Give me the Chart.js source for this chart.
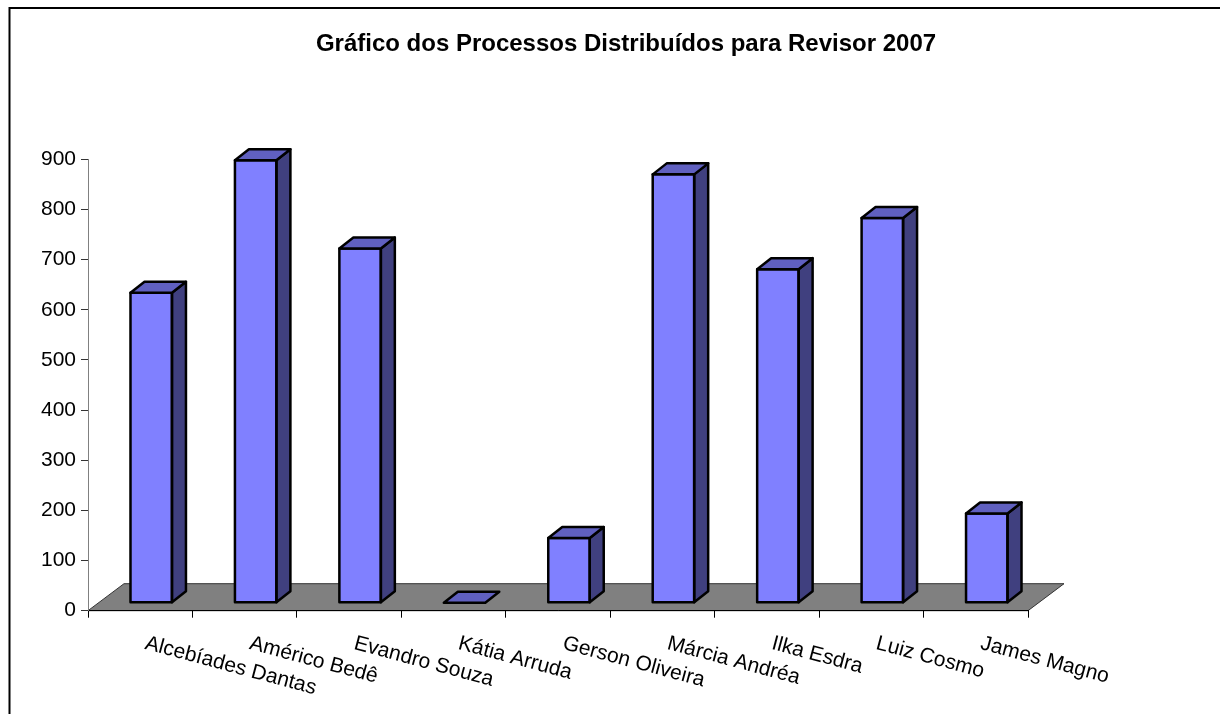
<!DOCTYPE html>
<html>
<head>
<meta charset="utf-8">
<title>Gráfico dos Processos Distribuídos para Revisor 2007</title>
<script src="https://cdn.jsdelivr.net/npm/chart.js@4.4.1/dist/chart.umd.min.js"></script>
<style>
    html, body { margin: 0; padding: 0; background: #fff; }
    canvas { display: block; }
</style>
</head>
<body>
<canvas id="revisorChart" width="1220" height="714"></canvas>
<script>
const chartTitle = 'Gráfico dos Processos Distribuídos para Revisor 2007';
const revisores = ['Alcebíades Dantas', 'Américo Bedê', 'Evandro Souza', 'Kátia Arruda', 'Gerson Oliveira',
    'Márcia Andréa', 'Ilka Esdra', 'Luiz Cosmo', 'James Magno'];
const processos = [618, 882, 706, 0, 129, 854, 665, 767, 178];
const yTicks = [0, 100, 200, 300, 400, 500, 600, 700, 800, 900];

const fontName = '"Liberation Sans", Arial, sans-serif';
// depth of the 3D floor and of each column (in pixels)
const floorDepth = { x: 36, y: -27 };
const barDepth = { x: 14, y: -11 };
const barShift = { x: (floorDepth.x - barDepth.x) / 2, y: (floorDepth.y - barDepth.y) / 2 };

// Draws the frame, the title, the grey floor, the 3D faces of the columns and the slanted labels
const columns3d = {
    id: 'columns3d',
    beforeDraw(chart) {
        const ctx = chart.ctx;
        const area = chart.chartArea;
        const yZero = chart.scales.y.getPixelForValue(0);

        ctx.save();
        ctx.strokeStyle = '#000';
        ctx.lineWidth = 2;
        ctx.strokeRect(9.5, 8, chart.width + 20, chart.height + 20);

        ctx.fillStyle = '#000';
        ctx.font = 'bold 24px ' + fontName;
        ctx.textAlign = 'center';
        ctx.textBaseline = 'alphabetic';
        ctx.fillText(chartTitle, 626, 51);

        // floor
        ctx.beginPath();
        ctx.moveTo(area.left, yZero);
        ctx.lineTo(area.left + floorDepth.x, yZero + floorDepth.y);
        ctx.lineTo(area.right + floorDepth.x, yZero + floorDepth.y);
        ctx.lineTo(area.right, yZero);
        ctx.closePath();
        ctx.fillStyle = '#808080';
        ctx.fill();
        ctx.strokeStyle = '#333';
        ctx.lineWidth = 1;
        ctx.stroke();
        ctx.restore();
    },
    beforeDatasetsDraw(chart) {
        chart.ctx.save();
        chart.ctx.translate(barShift.x, barShift.y);
    },
    afterDatasetsDraw(chart) {
        const ctx = chart.ctx;
        ctx.lineWidth = 2.5;
        ctx.lineJoin = 'round';
        ctx.strokeStyle = '#000';
        chart.getDatasetMeta(0).data.forEach(bar => {
            const { x, y, base, width } = bar.getProps(['x', 'y', 'base', 'width'], true);
            const l = x - width / 2;
            const r = x + width / 2;
            if (base - y > 0.5) {
                ctx.beginPath();
                ctx.moveTo(r, y);
                ctx.lineTo(r + barDepth.x, y + barDepth.y);
                ctx.lineTo(r + barDepth.x, base + barDepth.y);
                ctx.lineTo(r, base);
                ctx.closePath();
                ctx.fillStyle = '#40407f';
                ctx.fill();
                ctx.stroke();
                ctx.strokeRect(l, y, width, base - y);
            }
            ctx.beginPath();
            ctx.moveTo(l, y);
            ctx.lineTo(l + barDepth.x, y + barDepth.y);
            ctx.lineTo(r + barDepth.x, y + barDepth.y);
            ctx.lineTo(r, y);
            ctx.closePath();
            ctx.fillStyle = '#6060c0';
            ctx.fill();
            ctx.stroke();
        });
        ctx.restore();

        // category labels, slanted downwards
        const xScale = chart.scales.x;
        ctx.save();
        ctx.font = '21px ' + fontName;
        ctx.fillStyle = '#000';
        ctx.textAlign = 'left';
        ctx.textBaseline = 'top';
        revisores.forEach((name, i) => {
            ctx.save();
            ctx.translate(xScale.getPixelForValue(i) + 8, 633);
            ctx.rotate(15 * Math.PI / 180);
            ctx.fillText(name, 0, 0);
            ctx.restore();
        });
        ctx.restore();
    }
};

const ctx = document.getElementById('revisorChart').getContext('2d');
const mainChart = new Chart(ctx, {
    type: 'bar',
    data: {
        labels: revisores,
        datasets: [{
            label: 'Processos',
            data: processos,
            backgroundColor: '#8080ff',
            borderWidth: 0,
            categoryPercentage: 1,
            barPercentage: 0.397
        }]
    },
    options: {
        responsive: false,
        animation: false,
        devicePixelRatio: 1,
        layout: {
            padding: { top: 159.3, right: 192, bottom: 0, left: 0 }
        },
        plugins: {
            legend: { display: false },
            title: { display: false },
            tooltip: { enabled: false }
        },
        scales: {
            x: {
                grid: { drawOnChartArea: false, drawTicks: true, tickLength: 7, color: '#000', offset: true },
                border: { color: '#000', width: 1 },
                ticks: { display: false },
                afterFit(scale) { scale.height = 103.3; }
            },
            y: {
                min: 0,
                max: 900,
                afterBuildTicks(scale) { scale.ticks = yTicks.map(v => ({ value: v })); },
                ticks: { color: '#000', padding: 5, font: { family: fontName, size: 21 } },
                grid: { drawOnChartArea: false, tickLength: 7, color: '#333' },
                border: { color: '#808080', width: 1 },
                afterFit(scale) { scale.width = 88; }
            }
        }
    },
    plugins: [columns3d]
});
</script>
</body>
</html>
